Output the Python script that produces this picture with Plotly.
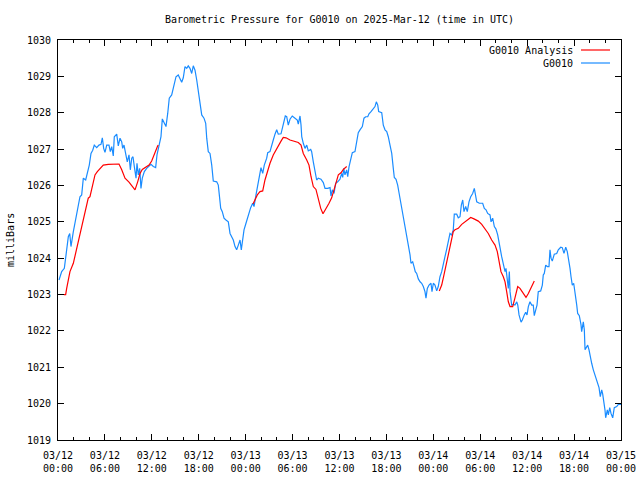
import datetime as dt
import plotly.graph_objects as go

# ---------------- data (hours after 2025-03-12 00:00 UTC, pressure in mbar) -------------
station_hours = [
    0.13, 0.47, 0.81, 1.11, 1.32, 1.50, 1.66, 1.96, 2.26, 2.52, 2.81, 3.03, 3.24, 3.54, 3.80,
    4.00, 4.22, 4.44, 4.64, 4.95, 5.24, 5.50, 5.67, 5.84, 6.01, 6.23, 6.52, 6.69, 6.87, 7.07,
    7.20, 7.51, 7.71, 7.93, 8.15, 8.27, 8.44, 8.66, 8.86, 9.08, 9.25, 9.43, 9.59, 9.76, 9.98,
    10.10, 10.27, 10.45, 10.61, 10.78, 11.04, 11.34, 11.64, 11.89, 12.19, 12.49, 12.66, 12.92,
    13.17, 13.34, 13.59, 13.81, 14.03, 14.23, 14.54, 14.75, 14.87, 15.09, 15.38, 15.60, 15.82,
    16.02, 16.24, 16.46, 16.66, 16.88, 17.10, 17.30, 17.52, 17.74, 17.94, 18.16, 18.38, 18.67,
    18.89, 19.02, 19.22, 19.44, 19.66, 19.86, 20.30, 20.50, 20.63, 20.81, 21.01, 21.23, 21.48,
    21.78, 22.00, 22.21, 22.42, 22.64, 22.85, 23.06, 23.28, 23.44, 23.62, 23.79, 24.04, 24.34,
    24.64, 24.90, 25.07, 25.32, 25.62, 25.83, 25.96, 26.18, 26.38, 26.69, 26.82, 27.11, 27.33,
    27.53, 27.75, 27.97, 28.17, 28.52, 28.74, 28.90, 29.07, 29.25, 29.45, 29.67, 29.96, 30.31,
    30.60, 30.73, 30.95, 31.08, 31.17, 31.37, 31.59, 31.81, 32.01, 32.32, 32.44, 32.65, 32.87,
    33.08, 33.29, 33.63, 33.93, 34.15, 34.49, 34.79, 34.91, 35.08, 35.30, 35.51, 35.77, 36.06,
    36.28, 36.41, 36.54, 36.70, 36.92, 37.05, 37.22, 37.43, 37.64, 37.98, 38.20, 38.40, 38.62,
    38.92, 39.13, 39.35, 39.61, 39.77, 40.03, 40.32, 40.54, 40.71, 40.89, 41.01, 41.40, 41.60,
    41.82, 42.04, 42.24, 42.46, 42.68, 42.88, 43.01, 43.23, 43.44, 43.61, 43.78, 43.96, 44.16,
    44.38, 44.59, 44.80, 45.02, 45.14, 45.36, 45.53, 45.69, 45.87, 46.08, 46.30, 46.51, 46.72,
    46.93, 47.06, 47.23, 47.45, 47.70, 47.83, 48.00, 48.21, 48.43, 48.63, 48.85, 49.07, 49.27,
    49.49, 49.71, 49.91, 50.13, 50.35, 50.55, 50.68, 50.99, 51.19, 51.41, 51.58, 51.76, 51.92,
    52.14, 52.34, 52.56, 52.78, 53.03, 53.24, 53.37, 53.55, 53.88, 54.31, 54.52, 54.74, 54.95,
    55.25, 55.38, 55.59, 55.80, 56.01, 56.23, 56.40, 56.53, 56.74, 56.95, 57.17, 57.29, 57.38,
    57.51, 57.59, 57.72, 57.81, 58.02, 58.23, 58.44, 58.67, 58.80, 58.96, 59.22, 59.38, 59.63,
    59.81, 59.98, 60.15, 60.36, 60.58, 60.78, 60.91, 61.09, 61.26, 61.42, 61.73, 61.94, 62.06,
    62.19, 62.37, 62.57, 62.79, 62.92, 63.05, 63.21, 63.47, 63.78, 63.98, 64.29, 64.49, 64.71,
    64.93, 65.13, 65.35, 65.48, 65.61, 65.77, 65.95, 66.12, 66.34, 66.46, 66.67, 66.88, 66.97,
    67.18, 67.31, 67.40, 67.61, 67.74, 67.91, 68.07, 68.25, 68.46, 68.68, 68.80, 69.02, 69.19,
    69.35, 69.53, 69.66, 69.79, 69.95, 70.04, 70.25, 70.38, 70.56, 70.72, 70.94, 71.14, 71.45,
    71.66, 72.00,
]
station_pressure = [
    1023.40, 1023.63, 1023.72, 1024.18, 1024.59, 1024.68, 1024.32, 1024.73, 1025.10, 1025.33,
    1025.69, 1025.74, 1026.20, 1026.15, 1026.38, 1026.56, 1026.88, 1026.97, 1027.11, 1027.04,
    1027.11, 1027.13, 1027.31, 1027.02, 1026.91, 1027.11, 1027.11, 1026.93, 1027.07, 1026.81,
    1027.34, 1027.41, 1027.09, 1027.30, 1027.20, 1027.02, 1027.11, 1026.88, 1026.65, 1026.84,
    1026.43, 1026.75, 1026.79, 1026.52, 1026.20, 1026.61, 1026.29, 1026.47, 1025.92, 1026.20,
    1026.38, 1026.47, 1026.52, 1026.58, 1026.52, 1026.49, 1026.84, 1027.11, 1027.34, 1027.83,
    1027.71, 1027.62, 1027.98, 1028.40, 1028.49, 1028.67, 1028.84, 1028.99, 1029.04, 1028.95,
    1028.84, 1028.96, 1029.27, 1029.22, 1029.29, 1029.22, 1029.08, 1029.29, 1029.17, 1028.90,
    1028.63, 1028.21, 1027.94, 1027.85, 1027.71, 1027.30, 1026.93, 1026.88, 1026.56, 1026.12,
    1026.10, 1026.01, 1025.74, 1025.37, 1025.28, 1025.10, 1025.05, 1025.00, 1024.68, 1024.59,
    1024.50, 1024.32, 1024.23, 1024.36, 1024.50, 1024.23, 1024.50, 1024.78, 1024.96, 1025.19,
    1025.39, 1025.51, 1025.42, 1025.74, 1026.06, 1026.29, 1026.49, 1026.33, 1026.56, 1026.75,
    1026.90, 1026.93, 1027.07, 1027.25, 1027.41, 1027.53, 1027.41, 1027.42, 1027.62, 1027.80,
    1027.91, 1027.89, 1027.66, 1027.82, 1027.91, 1027.85, 1027.80, 1027.69, 1027.91, 1027.66,
    1027.34, 1027.16, 1027.02, 1027.11, 1026.95, 1026.99, 1026.93, 1026.65, 1026.43, 1026.15,
    1026.20, 1026.17, 1026.08, 1025.92, 1025.92, 1025.94, 1025.71, 1025.88, 1025.78, 1026.06,
    1026.10, 1026.17, 1026.33, 1026.22, 1026.47, 1026.29, 1026.43, 1026.24, 1026.52, 1026.75,
    1026.90, 1026.93, 1027.25, 1027.45, 1027.53, 1027.62, 1027.85, 1027.89, 1027.89, 1027.97,
    1028.03, 1028.12, 1028.17, 1028.30, 1028.21, 1028.03, 1028.00, 1027.66, 1027.53, 1027.48,
    1027.34, 1027.11, 1026.88, 1026.47, 1026.22, 1026.17, 1026.01, 1025.80, 1025.60, 1025.42,
    1025.19, 1024.91, 1024.64, 1024.38, 1024.09, 1023.86, 1023.90, 1023.77, 1023.63, 1023.58,
    1023.43, 1023.35, 1023.31, 1023.22, 1023.08, 1022.90, 1023.17, 1023.26, 1023.31, 1023.08,
    1023.31, 1023.26, 1023.10, 1023.22, 1023.49, 1023.63, 1023.79, 1024.04, 1024.25, 1024.45,
    1024.68, 1024.64, 1024.78, 1025.21, 1025.21, 1025.11, 1025.14, 1025.46, 1025.60, 1025.28,
    1025.42, 1025.28, 1025.55, 1025.69, 1025.78, 1025.92, 1025.74, 1025.55, 1025.51, 1025.51,
    1025.37, 1025.33, 1025.23, 1025.19, 1025.00, 1025.10, 1024.87, 1024.80, 1024.64, 1024.36,
    1024.29, 1024.04, 1023.81, 1023.63, 1023.72, 1023.54, 1023.40, 1023.17, 1023.63, 1023.08,
    1022.71, 1022.73, 1022.71, 1022.80, 1022.71, 1022.44, 1022.24, 1022.30, 1022.44, 1022.51,
    1022.44, 1022.67, 1022.80, 1022.71, 1022.71, 1022.42, 1022.57, 1022.71, 1023.08, 1023.10,
    1023.26, 1023.54, 1023.58, 1023.81, 1023.77, 1023.77, 1024.23, 1024.00, 1023.92, 1024.11,
    1024.13, 1024.23, 1024.30, 1024.29, 1024.13, 1024.30, 1024.18, 1023.95, 1023.72, 1023.49,
    1023.26, 1023.31, 1023.08, 1022.71, 1022.48, 1022.42, 1022.18, 1021.98, 1022.25, 1022.03,
    1021.48, 1021.57, 1021.61, 1021.48, 1021.25, 1021.11, 1020.93, 1020.79, 1020.70, 1020.51,
    1020.44, 1020.19, 1020.38, 1020.26, 1020.10, 1019.83, 1019.61, 1019.83, 1019.69, 1019.89,
    1019.73, 1019.61, 1019.89, 1019.92, 1019.98, 1019.98,
]

# analysis series: three separate runs separated by None gaps
analysis_hours = [
    0.75, 0.98, 1.11, 1.53, 1.96, 2.39, 2.81, 3.24, 3.67, 3.87, 4.09, 4.39, 4.73, 5.03, 5.37,
    5.79, 6.43, 7.80, 8.15, 8.57, 9.08, 9.50, 9.85, 10.19, 10.49, 10.78, 11.22, 11.64, 11.98,
    12.32, 12.75, 12.83,
    None,
    24.94, 25.49, 25.83, 26.18, 26.47, 26.77, 27.11, 27.53, 27.88, 28.17, 28.52, 28.81, 29.16,
    29.67, 30.31, 30.73, 31.08, 31.37, 31.81, 32.10, 32.36, 32.65, 32.99, 33.29, 33.60, 33.89,
    34.24, 34.66, 35.00, 35.33, 35.64, 35.85, 36.19, 36.49, 36.92,
    None,
    48.76, 49.07, 49.36, 49.62, 49.91, 50.13, 50.35, 50.55, 50.77, 51.19, 51.63, 52.05, 52.40,
    52.78, 53.20, 53.75, 54.19, 54.61, 55.03, 55.46, 55.89, 56.18, 56.40, 56.65, 56.95, 57.17,
    57.38, 57.59, 57.81, 58.15, 58.44, 58.79, 59.08, 59.51, 59.85, 60.15, 60.58, 60.91,
]
analysis_pressure = [
    1023.00, 1023.00, 1023.17, 1023.63, 1023.86, 1024.27, 1024.64, 1025.10, 1025.46, 1025.65,
    1025.69, 1025.97, 1026.29, 1026.38, 1026.47, 1026.56, 1026.58, 1026.59, 1026.43, 1026.20,
    1026.09, 1025.97, 1025.88, 1026.10, 1026.33, 1026.44, 1026.50, 1026.56, 1026.67, 1026.88,
    1027.09, 1027.11,
    None,
    1025.49, 1025.74, 1025.83, 1025.85, 1026.15, 1026.38, 1026.61, 1026.84, 1026.99, 1027.11,
    1027.22, 1027.32, 1027.31, 1027.25, 1027.22, 1027.18, 1027.11, 1026.88, 1026.70, 1026.56,
    1026.24, 1025.97, 1025.89, 1025.60, 1025.37, 1025.22, 1025.34, 1025.51, 1025.66, 1025.92,
    1026.13, 1026.29, 1026.35, 1026.44, 1026.52,
    None,
    1023.10, 1023.26, 1023.54, 1023.81, 1024.09, 1024.27, 1024.50, 1024.73, 1024.78, 1024.82,
    1024.93, 1025.00, 1025.05, 1025.12, 1025.08, 1025.02, 1024.93, 1024.82, 1024.68, 1024.50,
    1024.36, 1024.18, 1023.90, 1023.63, 1023.49, 1023.35, 1023.08, 1022.80, 1022.67, 1022.67,
    1022.91, 1023.22, 1023.17, 1023.03, 1022.92, 1023.03, 1023.22, 1023.37,
]

series_names = ["G0010 Analysis", "G0010"]
series_colors = ["#ff0000", "#1a8cff"]
title_text = "Barometric Pressure for G0010 on 2025-Mar-12 (time in UTC)"
y_title = "milliBars"
start = dt.datetime(2025, 3, 12, 0, 0)
end = dt.datetime(2025, 3, 15, 0, 0)


def to_time(hours):
    return [None if h is None else start + dt.timedelta(hours=h) for h in hours]


FONT = "DejaVu Sans Mono"
L, R, T, B = 58, 19, 40, 40
PW, PH = 640 - L - R, 480 - T - B

fig = go.Figure()
fig.add_trace(go.Scatter(
    x=to_time(station_hours), y=station_pressure, mode="lines", name=series_names[1],
    line=dict(color=series_colors[1], width=1.2), showlegend=False,
))
fig.add_trace(go.Scatter(
    x=to_time(analysis_hours), y=analysis_pressure, mode="lines", name=series_names[0],
    line=dict(color=series_colors[0], width=1.2), connectgaps=False, showlegend=False,
))

# gnuplot-style legend: text on the left, line sample on the right
legend_rows = [(series_names[0], series_colors[0], 50), (series_names[1], series_colors[1], 63)]
for name, color, ypx in legend_rows:
    yp = 1 - (ypx - T) / PH
    fig.add_annotation(x=(575 - L) / PW, y=yp, xref="paper", yref="paper",
                       text=name, showarrow=False, xanchor="right", yanchor="middle",
                       font=dict(family=FONT, size=10, color="black"))
    fig.add_shape(type="line", xref="paper", yref="paper",
                  x0=(581 - L) / PW, x1=(610 - L) / PW, y0=yp, y1=yp,
                  line=dict(color=color, width=1.2))

# y-axis title, rotated, placed like gnuplot's ylabel
fig.add_annotation(x=(10 - L) / PW, y=0.5, xref="paper", yref="paper", text=y_title,
                   showarrow=False, textangle=-90, xanchor="center", yanchor="middle",
                   font=dict(family=FONT, size=10, color="black"))

fig.update_layout(
    width=640, height=480,
    margin=dict(l=L, r=R, t=T, b=B, autoexpand=False),
    paper_bgcolor="white", plot_bgcolor="white",
    font=dict(family=FONT, size=10, color="black"),
    title=dict(text=title_text, x=0.5, xref="paper", y=1 - 19 / 480, yref="container",
               xanchor="center", yanchor="middle", font=dict(family=FONT, size=10)),
    showlegend=False,
)
fig.update_xaxes(
    type="date", range=[start, end], tick0=start, dtick=6 * 3600 * 1000,
    tickformat="%m/%d<br>%H:%M", ticks="inside", ticklen=6, tickwidth=1, tickcolor="black",
    minor=dict(dtick=2 * 3600 * 1000, ticks="inside", ticklen=3, tickcolor="black", showgrid=False),
    showline=True, linecolor="black", linewidth=1, mirror="ticks", showgrid=False,
    zeroline=False, ticklabelstandoff=6, automargin=False,
)
fig.update_yaxes(
    range=[1019, 1030], tick0=1019, dtick=1, ticks="inside", ticklen=6, tickwidth=1,
    tickcolor="black", showline=True, linecolor="black", linewidth=1, mirror="ticks",
    showgrid=False, zeroline=False, ticklabelstandoff=4, automargin=False,
)

fig.write_html("out.html", config={"displayModeBar": False},
               post_script="document.body.style.margin='0';")
